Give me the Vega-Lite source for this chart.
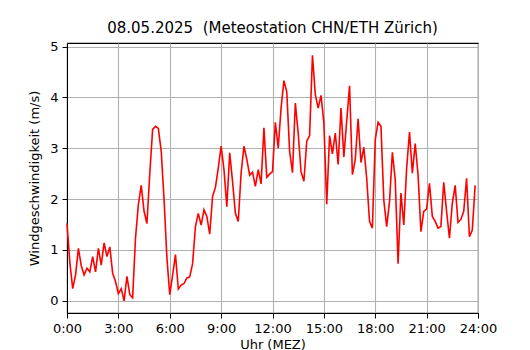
{
  "$schema": "https://vega.github.io/schema/vega-lite/v6.json",
  "width": 411,
  "height": 270,
  "autosize": {"type": "none"},
  "padding": {"left": 67, "top": 43, "right": 52, "bottom": 37},
  "background": "white",
  "title": {"text": "08.05.2025\u00a0 (Meteostation CHN/ETH Zürich)", "font": "DejaVu Sans", "fontSize": 15, "fontWeight": "normal", "color": "black", "offset": 5},
  "config": {
    "view": {"stroke": "black", "strokeWidth": 1.1},
    "axis": {"labelFont": "DejaVu Sans", "titleFont": "DejaVu Sans", "labelFontSize": 13, "titleFontSize": 13, "titleFontWeight": "normal", "labelColor": "black", "titleColor": "black", "domainColor": "black", "tickColor": "black", "tickSize": 5, "labelPadding": 4, "gridColor": "#b0b0b0", "gridWidth": 1.1}
  },
  "data": {"values": [
    {"m":0,"v":1.52},{"m":10,"v":0.75},{"m":20,"v":0.24},{"m":30,"v":0.51},{"m":40,"v":1.03},{"m":50,"v":0.69},
    {"m":60,"v":0.51},{"m":70,"v":0.64},{"m":80,"v":0.57},{"m":90,"v":0.87},{"m":100,"v":0.57},{"m":110,"v":1.03},
    {"m":120,"v":0.70},{"m":130,"v":1.14},{"m":140,"v":0.87},{"m":150,"v":1.06},{"m":160,"v":0.54},{"m":170,"v":0.38},
    {"m":180,"v":0.14},{"m":190,"v":0.24},{"m":200,"v":0.00},{"m":210,"v":0.48},{"m":220,"v":0.12},{"m":230,"v":0.06},
    {"m":240,"v":1.23},{"m":250,"v":1.89},{"m":260,"v":2.27},{"m":270,"v":1.76},{"m":280,"v":1.52},{"m":290,"v":2.5},
    {"m":300,"v":3.37},{"m":310,"v":3.43},{"m":320,"v":3.39},{"m":330,"v":2.95},{"m":340,"v":2.0},{"m":350,"v":0.85},
    {"m":360,"v":0.12},{"m":370,"v":0.5},{"m":380,"v":0.91},{"m":390,"v":0.23},{"m":400,"v":0.31},{"m":410,"v":0.34},
    {"m":420,"v":0.45},{"m":430,"v":0.47},{"m":440,"v":0.73},{"m":450,"v":1.46},{"m":460,"v":1.72},{"m":470,"v":1.49},
    {"m":480,"v":1.79},{"m":490,"v":1.66},{"m":500,"v":1.31},{"m":510,"v":2.05},{"m":520,"v":2.23},{"m":530,"v":2.61},
    {"m":540,"v":3.04},{"m":550,"v":2.58},{"m":560,"v":1.85},{"m":570,"v":2.91},{"m":580,"v":2.35},{"m":590,"v":1.72},
    {"m":600,"v":1.56},{"m":610,"v":2.51},{"m":620,"v":3.04},{"m":630,"v":2.78},{"m":640,"v":2.47},{"m":650,"v":2.53},
    {"m":660,"v":2.25},{"m":670,"v":2.58},{"m":680,"v":2.30},{"m":690,"v":3.40},{"m":700,"v":2.43},{"m":710,"v":2.49},
    {"m":720,"v":2.54},{"m":730,"v":3.51},{"m":740,"v":3.00},{"m":750,"v":3.79},{"m":760,"v":4.33},{"m":770,"v":4.11},
    {"m":780,"v":2.94},{"m":790,"v":2.52},{"m":800,"v":3.89},{"m":810,"v":3.30},{"m":820,"v":2.54},{"m":830,"v":2.35},
    {"m":840,"v":3.14},{"m":850,"v":3.25},{"m":860,"v":4.83},{"m":870,"v":4.06},{"m":880,"v":3.79},{"m":890,"v":4.04},
    {"m":900,"v":3.50},{"m":910,"v":1.90},{"m":920,"v":3.25},{"m":930,"v":2.89},{"m":940,"v":3.30},{"m":950,"v":2.68},
    {"m":960,"v":3.79},{"m":970,"v":2.83},{"m":980,"v":3.54},{"m":990,"v":4.23},{"m":1000,"v":2.48},{"m":1010,"v":2.78},
    {"m":1020,"v":3.58},{"m":1030,"v":2.72},{"m":1040,"v":3.02},{"m":1050,"v":2.41},{"m":1060,"v":1.56},{"m":1070,"v":1.43},
    {"m":1080,"v":3.17},{"m":1090,"v":3.51},{"m":1100,"v":3.43},{"m":1110,"v":1.98},{"m":1120,"v":1.46},{"m":1130,"v":1.95},
    {"m":1140,"v":2.92},{"m":1150,"v":2.38},{"m":1160,"v":0.73},{"m":1170,"v":2.12},{"m":1180,"v":1.49},{"m":1190,"v":2.61},
    {"m":1200,"v":3.32},{"m":1210,"v":2.51},{"m":1220,"v":3.09},{"m":1230,"v":2.48},{"m":1240,"v":1.36},{"m":1250,"v":1.76},
    {"m":1260,"v":1.81},{"m":1270,"v":2.31},{"m":1280,"v":1.66},{"m":1290,"v":1.56},{"m":1300,"v":1.43},{"m":1310,"v":1.46},
    {"m":1320,"v":2.33},{"m":1330,"v":1.76},{"m":1340,"v":1.23},{"m":1350,"v":1.92},{"m":1360,"v":2.27},{"m":1370,"v":1.54},
    {"m":1380,"v":1.60},{"m":1390,"v":1.76},{"m":1400,"v":2.41},{"m":1410,"v":1.26},{"m":1420,"v":1.39},{"m":1430,"v":2.27}
  ]},
  "mark": {"type": "line", "color": "#ff0000", "strokeWidth": 1.6},
  "encoding": {
    "x": {"field": "m", "type": "quantitative", "scale": {"domain": [0, 1440], "nice": false, "zero": false},
      "axis": {"values": [0, 180, 360, 540, 720, 900, 1080, 1260, 1440], "labelExpr": "floor(datum.value/60) + ':00'", "title": "Uhr (MEZ)", "titlePadding": 3, "labelFlush": false}},
    "y": {"field": "v", "type": "quantitative", "scale": {"domain": [-0.24, 5.07], "nice": false, "zero": false},
      "axis": {"values": [0, 1, 2, 3, 4, 5], "title": "Windgeschwindigkeit (m/s)", "titlePadding": 8}}
  }
}
